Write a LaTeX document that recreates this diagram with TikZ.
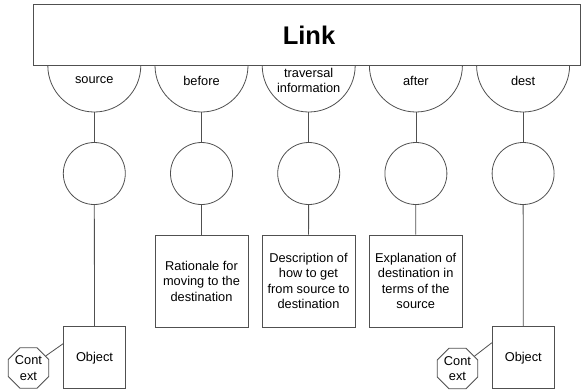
\documentclass[tikz,border=0pt]{standalone}
\usepackage{fontspec}
\setmainfont{Liberation Sans}
\usetikzlibrary{shapes.geometric}
\definecolor{lc}{HTML}{505050}
\begin{document}
\begin{tikzpicture}[x=1pt,y=-1pt,
  ln/.style={draw=lc,line width=0.8pt},
  txt/.style={font=\fontsize{12.8}{15.5}\selectfont, align=center, text=black},
  circ/.style={ln,circle,minimum size=62pt,inner sep=0pt},
  rbox/.style={ln,rectangle,minimum width=93pt,minimum height=92pt,inner sep=0pt,txt},
  obox/.style={ln,rectangle,minimum width=62pt,minimum height=62pt,inner sep=0pt,txt},
  ctx/.style={ln,regular polygon,regular polygon sides=8,minimum size=44pt,inner sep=0pt,txt}
]
\useasboundingbox (0,0) rectangle (581,389);
\fill[white] (0,0) rectangle (581,389);
% top bar
\node[ln,rectangle,minimum width=547pt,minimum height=61pt,inner sep=0pt] (link) at (306.5,35) {};
\node[font=\fontsize{25.5}{28}\selectfont\bfseries] (linktxt) at (309,35) {Link};
% semicircles, circles
\foreach \i/\cx/\lab in {1/94.3/source,2/201.5/before,3/308.7/{traversal\\information},4/415.9/after,5/523.1/dest}{
  \draw[ln] (\cx-46.5,65.5) arc (180:0:46.5);
  \coordinate (sb\i) at (\cx,112);
  \node[txt] (sl\i) at (\cx,80.5) {\lab};
  \node[circ] (c\i) at (\cx,173.5) {};
  \draw[ln] (sb\i) -- (c\i);
}
% boxes
\node[rbox] (r2) at (201.5,281) {Rationale for\\moving to the\\destination};
\node[rbox] (r3) at (308.5,281) {Description of\\how to get\\from source to\\destination};
\node[rbox] (r4) at (415.7,281) {Explanation of\\destination in\\terms of the\\source};
\node[obox] (o1) at (94.5,357.7) {Object};
\node[obox] (o5) at (523.3,357.7) {Object};
\node[ctx] (x1) at (28.5,368) {Cont\\ext};
\node[ctx] (x5) at (457.5,368.5) {Cont\\ext};
% connectors
\draw[ln] (c1) -- (o1);
\draw[ln] (c2) -- (r2);
\draw[ln] (c3) -- (r3);
\draw[ln] (c4) -- (r4);
\draw[ln] (c5) -- (o5);
\draw[ln] (x1.35) -- ([yshift=14pt]o1.west);
\draw[ln] (x5.36) -- ([yshift=15pt]o5.west);
\end{tikzpicture}
\end{document}
